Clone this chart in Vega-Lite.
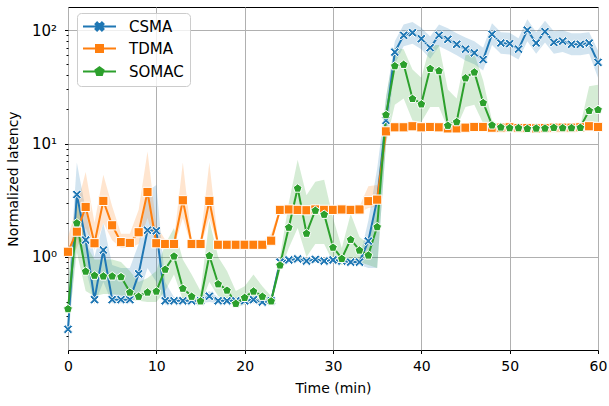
{
"$schema": "https://vega.github.io/schema/vega-lite/v6.json",
"width": 530, "height": 343,
"autosize": {"type": "none"},
"padding": {"left": 68, "top": 7, "right": 11, "bottom": 56},
"background": "white",
"view": {"stroke": "#000", "strokeWidth": 1},
"config": {
  "view": {"stroke": "#000", "strokeWidth": 1},
  "font": "DejaVu Sans",
  "axis": {"labelFont": "DejaVu Sans", "titleFont": "DejaVu Sans", "labelFontSize": 14, "titleFontSize": 14, "titleFontWeight": "normal", "labelColor": "#000", "titleColor": "#000", "tickColor": "#000", "domain": false, "gridColor": "#b0b0b0", "gridWidth": 1, "tickWidth": 1}
},
"data": {"values": [
{"t":0,"series":"CSMA","v":0.23,"lo":0.17,"hi":0.45},
{"t":1,"series":"CSMA","v":3.55,"lo":1.5,"hi":6.8},
{"t":2,"series":"CSMA","v":1.41,"lo":0.8,"hi":2.6},
{"t":3,"series":"CSMA","v":0.42,"lo":0.38,"hi":1.0},
{"t":4,"series":"CSMA","v":1.15,"lo":0.6,"hi":2.0},
{"t":5,"series":"CSMA","v":0.42,"lo":0.39,"hi":0.85},
{"t":6,"series":"CSMA","v":0.42,"lo":0.39,"hi":0.8},
{"t":7,"series":"CSMA","v":0.42,"lo":0.39,"hi":0.8},
{"t":8,"series":"CSMA","v":0.71,"lo":0.45,"hi":1.3},
{"t":9,"series":"CSMA","v":1.72,"lo":0.8,"hi":3.8},
{"t":10,"series":"CSMA","v":1.7,"lo":0.6,"hi":4.3},
{"t":11,"series":"CSMA","v":0.41,"lo":0.38,"hi":0.6},
{"t":12,"series":"CSMA","v":0.41,"lo":0.39,"hi":0.44},
{"t":13,"series":"CSMA","v":0.41,"lo":0.39,"hi":0.44},
{"t":14,"series":"CSMA","v":0.41,"lo":0.39,"hi":0.44},
{"t":15,"series":"CSMA","v":0.41,"lo":0.39,"hi":0.44},
{"t":16,"series":"CSMA","v":0.45,"lo":0.4,"hi":0.5},
{"t":17,"series":"CSMA","v":0.41,"lo":0.39,"hi":0.44},
{"t":18,"series":"CSMA","v":0.41,"lo":0.39,"hi":0.44},
{"t":19,"series":"CSMA","v":0.41,"lo":0.39,"hi":0.44},
{"t":20,"series":"CSMA","v":0.41,"lo":0.39,"hi":0.44},
{"t":21,"series":"CSMA","v":0.42,"lo":0.39,"hi":0.45},
{"t":22,"series":"CSMA","v":0.40,"lo":0.38,"hi":0.43},
{"t":23,"series":"CSMA","v":0.41,"lo":0.39,"hi":0.44},
{"t":24,"series":"CSMA","v":0.90,"lo":0.85,"hi":0.96},
{"t":25,"series":"CSMA","v":0.94,"lo":0.88,"hi":1.0},
{"t":26,"series":"CSMA","v":0.96,"lo":0.9,"hi":1.02},
{"t":27,"series":"CSMA","v":0.92,"lo":0.87,"hi":0.98},
{"t":28,"series":"CSMA","v":0.95,"lo":0.89,"hi":1.01},
{"t":29,"series":"CSMA","v":0.92,"lo":0.87,"hi":0.98},
{"t":30,"series":"CSMA","v":0.94,"lo":0.88,"hi":1.0},
{"t":31,"series":"CSMA","v":0.92,"lo":0.87,"hi":0.98},
{"t":32,"series":"CSMA","v":0.90,"lo":0.85,"hi":0.96},
{"t":33,"series":"CSMA","v":0.90,"lo":0.85,"hi":0.96},
{"t":34,"series":"CSMA","v":1.38,"lo":0.8,"hi":2.1},
{"t":35,"series":"CSMA","v":3.2,"lo":0.8,"hi":6},
{"t":36,"series":"CSMA","v":16,"lo":10,"hi":25},
{"t":37,"series":"CSMA","v":64,"lo":50,"hi":80},
{"t":38,"series":"CSMA","v":90,"lo":72,"hi":112},
{"t":39,"series":"CSMA","v":95,"lo":76,"hi":118},
{"t":40,"series":"CSMA","v":84,"lo":68,"hi":105},
{"t":41,"series":"CSMA","v":70,"lo":56,"hi":88},
{"t":42,"series":"CSMA","v":90,"lo":72,"hi":112},
{"t":43,"series":"CSMA","v":83,"lo":66,"hi":104},
{"t":44,"series":"CSMA","v":75,"lo":60,"hi":94},
{"t":45,"series":"CSMA","v":68,"lo":54,"hi":86},
{"t":46,"series":"CSMA","v":63,"lo":50,"hi":80},
{"t":47,"series":"CSMA","v":55,"lo":44,"hi":70},
{"t":48,"series":"CSMA","v":92,"lo":74,"hi":115},
{"t":49,"series":"CSMA","v":77,"lo":62,"hi":96},
{"t":50,"series":"CSMA","v":76,"lo":61,"hi":95},
{"t":51,"series":"CSMA","v":68,"lo":55,"hi":85},
{"t":52,"series":"CSMA","v":100,"lo":80,"hi":125},
{"t":53,"series":"CSMA","v":77,"lo":62,"hi":96},
{"t":54,"series":"CSMA","v":97,"lo":78,"hi":121},
{"t":55,"series":"CSMA","v":78,"lo":62,"hi":98},
{"t":56,"series":"CSMA","v":80,"lo":64,"hi":100},
{"t":57,"series":"CSMA","v":75,"lo":60,"hi":94},
{"t":58,"series":"CSMA","v":75,"lo":60,"hi":94},
{"t":59,"series":"CSMA","v":77,"lo":62,"hi":96},
{"t":60,"series":"CSMA","v":52,"lo":38,"hi":66},
{"t":0,"series":"TDMA","v":1.11,"lo":0.9,"hi":1.5},
{"t":1,"series":"TDMA","v":1.67,"lo":1.2,"hi":2.8},
{"t":2,"series":"TDMA","v":2.76,"lo":1.8,"hi":5.6},
{"t":3,"series":"TDMA","v":1.32,"lo":1.15,"hi":2.0},
{"t":4,"series":"TDMA","v":3.12,"lo":2.0,"hi":5.3},
{"t":5,"series":"TDMA","v":1.9,"lo":1.4,"hi":2.8},
{"t":6,"series":"TDMA","v":1.35,"lo":1.2,"hi":1.6},
{"t":7,"series":"TDMA","v":1.33,"lo":1.2,"hi":1.6},
{"t":8,"series":"TDMA","v":1.65,"lo":1.3,"hi":2.6},
{"t":9,"series":"TDMA","v":3.74,"lo":2.2,"hi":8.5},
{"t":10,"series":"TDMA","v":1.32,"lo":1.2,"hi":1.9},
{"t":11,"series":"TDMA","v":1.3,"lo":1.22,"hi":1.42},
{"t":12,"series":"TDMA","v":1.3,"lo":1.22,"hi":1.42},
{"t":13,"series":"TDMA","v":3.16,"lo":2.2,"hi":6.8},
{"t":14,"series":"TDMA","v":1.3,"lo":1.22,"hi":1.42},
{"t":15,"series":"TDMA","v":1.3,"lo":1.22,"hi":1.42},
{"t":16,"series":"TDMA","v":3.12,"lo":2.2,"hi":6.8},
{"t":17,"series":"TDMA","v":1.28,"lo":1.22,"hi":1.36},
{"t":18,"series":"TDMA","v":1.28,"lo":1.22,"hi":1.36},
{"t":19,"series":"TDMA","v":1.28,"lo":1.22,"hi":1.36},
{"t":20,"series":"TDMA","v":1.28,"lo":1.22,"hi":1.36},
{"t":21,"series":"TDMA","v":1.28,"lo":1.22,"hi":1.36},
{"t":22,"series":"TDMA","v":1.28,"lo":1.22,"hi":1.36},
{"t":23,"series":"TDMA","v":1.39,"lo":1.25,"hi":1.6},
{"t":24,"series":"TDMA","v":2.6,"lo":2.45,"hi":2.76},
{"t":25,"series":"TDMA","v":2.62,"lo":2.46,"hi":2.78},
{"t":26,"series":"TDMA","v":2.6,"lo":2.45,"hi":2.76},
{"t":27,"series":"TDMA","v":2.58,"lo":2.43,"hi":2.74},
{"t":28,"series":"TDMA","v":2.62,"lo":2.46,"hi":2.78},
{"t":29,"series":"TDMA","v":2.6,"lo":2.45,"hi":2.76},
{"t":30,"series":"TDMA","v":2.6,"lo":2.45,"hi":2.76},
{"t":31,"series":"TDMA","v":2.62,"lo":2.46,"hi":2.78},
{"t":32,"series":"TDMA","v":2.6,"lo":2.45,"hi":2.76},
{"t":33,"series":"TDMA","v":2.62,"lo":2.46,"hi":2.78},
{"t":34,"series":"TDMA","v":3.1,"lo":2.7,"hi":4.2},
{"t":35,"series":"TDMA","v":3.2,"lo":2.8,"hi":4.3},
{"t":36,"series":"TDMA","v":12.8,"lo":11.5,"hi":14.2},
{"t":37,"series":"TDMA","v":13.9,"lo":13.3,"hi":14.5},
{"t":38,"series":"TDMA","v":13.9,"lo":13.3,"hi":14.5},
{"t":39,"series":"TDMA","v":14.2,"lo":13.6,"hi":14.8},
{"t":40,"series":"TDMA","v":13.9,"lo":13.3,"hi":14.5},
{"t":41,"series":"TDMA","v":14.0,"lo":13.4,"hi":14.6},
{"t":42,"series":"TDMA","v":13.9,"lo":13.3,"hi":14.5},
{"t":43,"series":"TDMA","v":13.6,"lo":13.0,"hi":14.2},
{"t":44,"series":"TDMA","v":13.6,"lo":13.0,"hi":14.2},
{"t":45,"series":"TDMA","v":13.8,"lo":13.2,"hi":14.4},
{"t":46,"series":"TDMA","v":14.0,"lo":13.4,"hi":14.6},
{"t":47,"series":"TDMA","v":14.0,"lo":13.4,"hi":14.6},
{"t":48,"series":"TDMA","v":13.8,"lo":13.2,"hi":14.4},
{"t":49,"series":"TDMA","v":13.8,"lo":13.2,"hi":14.4},
{"t":50,"series":"TDMA","v":13.9,"lo":13.3,"hi":14.5},
{"t":51,"series":"TDMA","v":13.7,"lo":13.1,"hi":14.3},
{"t":52,"series":"TDMA","v":13.7,"lo":13.1,"hi":14.3},
{"t":53,"series":"TDMA","v":13.6,"lo":13.0,"hi":14.2},
{"t":54,"series":"TDMA","v":13.7,"lo":13.1,"hi":14.3},
{"t":55,"series":"TDMA","v":13.8,"lo":13.2,"hi":14.4},
{"t":56,"series":"TDMA","v":13.8,"lo":13.2,"hi":14.4},
{"t":57,"series":"TDMA","v":13.8,"lo":13.2,"hi":14.4},
{"t":58,"series":"TDMA","v":13.9,"lo":13.3,"hi":14.5},
{"t":59,"series":"TDMA","v":14.2,"lo":13.6,"hi":14.8},
{"t":60,"series":"TDMA","v":14.0,"lo":13.4,"hi":14.6},
{"t":0,"series":"SOMAC","v":0.35,"lo":0.22,"hi":0.6},
{"t":1,"series":"SOMAC","v":2.0,"lo":1.1,"hi":3.2},
{"t":2,"series":"SOMAC","v":0.75,"lo":0.5,"hi":1.3},
{"t":3,"series":"SOMAC","v":0.69,"lo":0.45,"hi":0.95},
{"t":4,"series":"SOMAC","v":0.68,"lo":0.47,"hi":0.95},
{"t":5,"series":"SOMAC","v":0.68,"lo":0.47,"hi":0.95},
{"t":6,"series":"SOMAC","v":0.67,"lo":0.46,"hi":0.9},
{"t":7,"series":"SOMAC","v":0.49,"lo":0.42,"hi":0.75},
{"t":8,"series":"SOMAC","v":0.45,"lo":0.41,"hi":0.6},
{"t":9,"series":"SOMAC","v":0.49,"lo":0.4,"hi":0.65},
{"t":10,"series":"SOMAC","v":0.5,"lo":0.4,"hi":0.75},
{"t":11,"series":"SOMAC","v":0.78,"lo":0.5,"hi":1.3},
{"t":12,"series":"SOMAC","v":1.02,"lo":0.7,"hi":1.8},
{"t":13,"series":"SOMAC","v":0.53,"lo":0.42,"hi":0.95},
{"t":14,"series":"SOMAC","v":0.45,"lo":0.4,"hi":0.7},
{"t":15,"series":"SOMAC","v":0.41,"lo":0.38,"hi":0.5},
{"t":16,"series":"SOMAC","v":1.03,"lo":0.6,"hi":2.1},
{"t":17,"series":"SOMAC","v":0.58,"lo":0.45,"hi":1.0},
{"t":18,"series":"SOMAC","v":0.51,"lo":0.42,"hi":0.75},
{"t":19,"series":"SOMAC","v":0.39,"lo":0.36,"hi":0.5},
{"t":20,"series":"SOMAC","v":0.44,"lo":0.38,"hi":0.55},
{"t":21,"series":"SOMAC","v":0.50,"lo":0.4,"hi":0.7},
{"t":22,"series":"SOMAC","v":0.45,"lo":0.39,"hi":0.55},
{"t":23,"series":"SOMAC","v":0.41,"lo":0.38,"hi":0.45},
{"t":24,"series":"SOMAC","v":0.85,"lo":0.75,"hi":1.0},
{"t":25,"series":"SOMAC","v":1.83,"lo":1.2,"hi":3.0},
{"t":26,"series":"SOMAC","v":4.05,"lo":1.8,"hi":7.2},
{"t":27,"series":"SOMAC","v":1.62,"lo":1.0,"hi":3.5},
{"t":28,"series":"SOMAC","v":2.58,"lo":1.3,"hi":4.6},
{"t":29,"series":"SOMAC","v":2.38,"lo":1.3,"hi":4.8},
{"t":30,"series":"SOMAC","v":1.22,"lo":0.9,"hi":2.2},
{"t":31,"series":"SOMAC","v":0.97,"lo":0.85,"hi":1.2},
{"t":32,"series":"SOMAC","v":1.43,"lo":0.95,"hi":2.4},
{"t":33,"series":"SOMAC","v":1.15,"lo":0.9,"hi":1.5},
{"t":34,"series":"SOMAC","v":1.04,"lo":0.85,"hi":1.3},
{"t":35,"series":"SOMAC","v":1.85,"lo":0.8,"hi":3.5},
{"t":36,"series":"SOMAC","v":18,"lo":10,"hi":26},
{"t":37,"series":"SOMAC","v":48.6,"lo":22,"hi":70},
{"t":38,"series":"SOMAC","v":50,"lo":25,"hi":68},
{"t":39,"series":"SOMAC","v":25,"lo":16,"hi":45},
{"t":40,"series":"SOMAC","v":22.4,"lo":15.5,"hi":38},
{"t":41,"series":"SOMAC","v":46,"lo":21,"hi":74},
{"t":42,"series":"SOMAC","v":44,"lo":21,"hi":74},
{"t":43,"series":"SOMAC","v":14.5,"lo":13.5,"hi":30},
{"t":44,"series":"SOMAC","v":15.6,"lo":14,"hi":25},
{"t":45,"series":"SOMAC","v":38,"lo":21,"hi":60},
{"t":46,"series":"SOMAC","v":42.8,"lo":22,"hi":62},
{"t":47,"series":"SOMAC","v":23,"lo":15,"hi":36},
{"t":48,"series":"SOMAC","v":14.6,"lo":13.8,"hi":16},
{"t":49,"series":"SOMAC","v":14.0,"lo":13.6,"hi":14.5},
{"t":50,"series":"SOMAC","v":13.8,"lo":13.4,"hi":14.3},
{"t":51,"series":"SOMAC","v":13.8,"lo":13.4,"hi":14.3},
{"t":52,"series":"SOMAC","v":13.6,"lo":13.2,"hi":14.1},
{"t":53,"series":"SOMAC","v":13.7,"lo":13.3,"hi":14.2},
{"t":54,"series":"SOMAC","v":13.7,"lo":13.3,"hi":14.2},
{"t":55,"series":"SOMAC","v":13.9,"lo":13.5,"hi":14.4},
{"t":56,"series":"SOMAC","v":13.8,"lo":13.4,"hi":14.3},
{"t":57,"series":"SOMAC","v":13.8,"lo":13.4,"hi":14.3},
{"t":58,"series":"SOMAC","v":13.9,"lo":13.5,"hi":14.4},
{"t":59,"series":"SOMAC","v":19.6,"lo":14,"hi":32},
{"t":60,"series":"SOMAC","v":20,"lo":14,"hi":33}
]},
"encoding": {
  "x": {"field": "t", "type": "quantitative", "scale": {"domain": [0, 60], "nice": false, "zero": false},
        "axis": {"values": [0,10,20,30,40,50,60], "title": "Time (min)", "labelFlush": false, "tickSize": 3.5, "labelPadding": 5.5, "titlePadding": 8, "grid": true}},
  "y": {"field": "v", "type": "quantitative", "scale": {"type": "log", "domain": [0.151, 160], "nice": false},
       "axis": {"title": "Normalized latency", "values": [0.2,0.3,0.4,0.5,0.6,0.7,0.8,0.9,1,2,3,4,5,6,7,8,9,10,20,30,40,50,60,70,80,90,100],
         "labelExpr": "datum.value === 1 ? '10⁰' : datum.value === 10 ? '10¹' : datum.value === 100 ? '10²' : ''",
         "tickSize": {"condition": {"test": "datum.value === 1 || datum.value === 10 || datum.value === 100", "value": 3.5}, "value": 2},
         "gridOpacity": {"condition": {"test": "datum.value === 1 || datum.value === 10 || datum.value === 100", "value": 1}, "value": 0},
         "grid": true, "labelFlush": false, "labelPadding": 8, "labelFontSize": 15, "titlePadding": 11}},
  "color": {"field": "series", "type": "nominal",
    "scale": {"domain": ["CSMA","TDMA","SOMAC"], "range": ["#1f77b4","#ff7f0e","#2ca02c"]},
    "legend": {
      "title": null, "orient": "none", "legendX": 9, "legendY": 6,
      "padding": 6, "fillColor": "rgba(255,255,255,0.8)", "strokeColor": "#cccccc", "cornerRadius": 4,
      "labelFont": "DejaVu Sans", "labelFontSize": 15, "labelColor": "#000",
      "symbolSize": 100, "rowPadding": 6, "labelOffset": 31, "symbolStrokeWidth": 2,
      "encode": {"symbols": {"update": {
        "shape": {"signal": "datum.value === 'CSMA' ? 'M-3.3,0H3.3M-0.8,-0.48L-0.48,-0.8L0,-0.32L0.48,-0.8L0.8,-0.48L0.32,0L0.8,0.48L0.48,0.8L0,0.32L-0.48,0.8L-0.8,0.48L-0.32,0Z' : datum.value === 'TDMA' ? 'M-3.3,0H3.3M-0.7,-0.7H0.7V0.7H-0.7Z' : 'M-3.3,0H3.3M0,-0.85L0.808,-0.263L0.5,0.688L-0.5,0.688L-0.808,-0.263Z'"},
        "size": {"value": 100},
        "x": {"value": 16.5},
        "fill": {"signal": "datum.value === 'CSMA' ? '#1f77b4' : datum.value === 'TDMA' ? '#ff7f0e' : '#2ca02c'"},
        "stroke": {"signal": "datum.value === 'CSMA' ? '#1f77b4' : datum.value === 'TDMA' ? '#ff7f0e' : '#2ca02c'"},
        "strokeWidth": {"value": 2},
        "opacity": {"value": 1},
        "fillOpacity": {"value": 1},
        "strokeOpacity": {"value": 1}
      }}}
    }}
},
"layer": [
  {"mark": {"type": "area", "opacity": 0.2},
   "encoding": {
     "y": {"field": "lo", "type": "quantitative", "scale": {"type": "log", "domain": [0.151, 160], "nice": false},
       "axis": {"title": "Normalized latency", "values": [0.2,0.3,0.4,0.5,0.6,0.7,0.8,0.9,1,2,3,4,5,6,7,8,9,10,20,30,40,50,60,70,80,90,100],
         "labelExpr": "datum.value === 1 ? '10⁰' : datum.value === 10 ? '10¹' : datum.value === 100 ? '10²' : ''",
         "tickSize": {"condition": {"test": "datum.value === 1 || datum.value === 10 || datum.value === 100", "value": 3.5}, "value": 2},
         "gridOpacity": {"condition": {"test": "datum.value === 1 || datum.value === 10 || datum.value === 100", "value": 1}, "value": 0},
         "grid": true, "labelFlush": false, "labelPadding": 8, "labelFontSize": 15, "titlePadding": 11}},
     "y2": {"field": "hi"}
   }},
  {"mark": {"type": "line", "strokeWidth": 2}},
  {"transform": [{"filter": "datum.series === 'CSMA'"}],
   "mark": {"type": "point", "filled": true, "size": 85, "stroke": "white", "strokeWidth": 1, "opacity": 1,
     "shape": "M-1,-0.6L-0.6,-1L0,-0.4L0.6,-1L1,-0.6L0.4,0L1,0.6L0.6,1L0,0.4L-0.6,1L-1,0.6L-0.4,0Z"}},
  {"transform": [{"filter": "datum.series === 'TDMA'"}],
   "mark": {"type": "point", "filled": true, "size": 85, "stroke": "white", "strokeWidth": 1, "opacity": 1, "shape": "square"}},
  {"transform": [{"filter": "datum.series === 'SOMAC'"}],
   "mark": {"type": "point", "filled": true, "size": 85, "stroke": "white", "strokeWidth": 1, "opacity": 1,
     "shape": "M0,-0.905L0.951,-0.214L0.588,0.904L-0.588,0.904L-0.951,-0.214Z"}}
]
}
